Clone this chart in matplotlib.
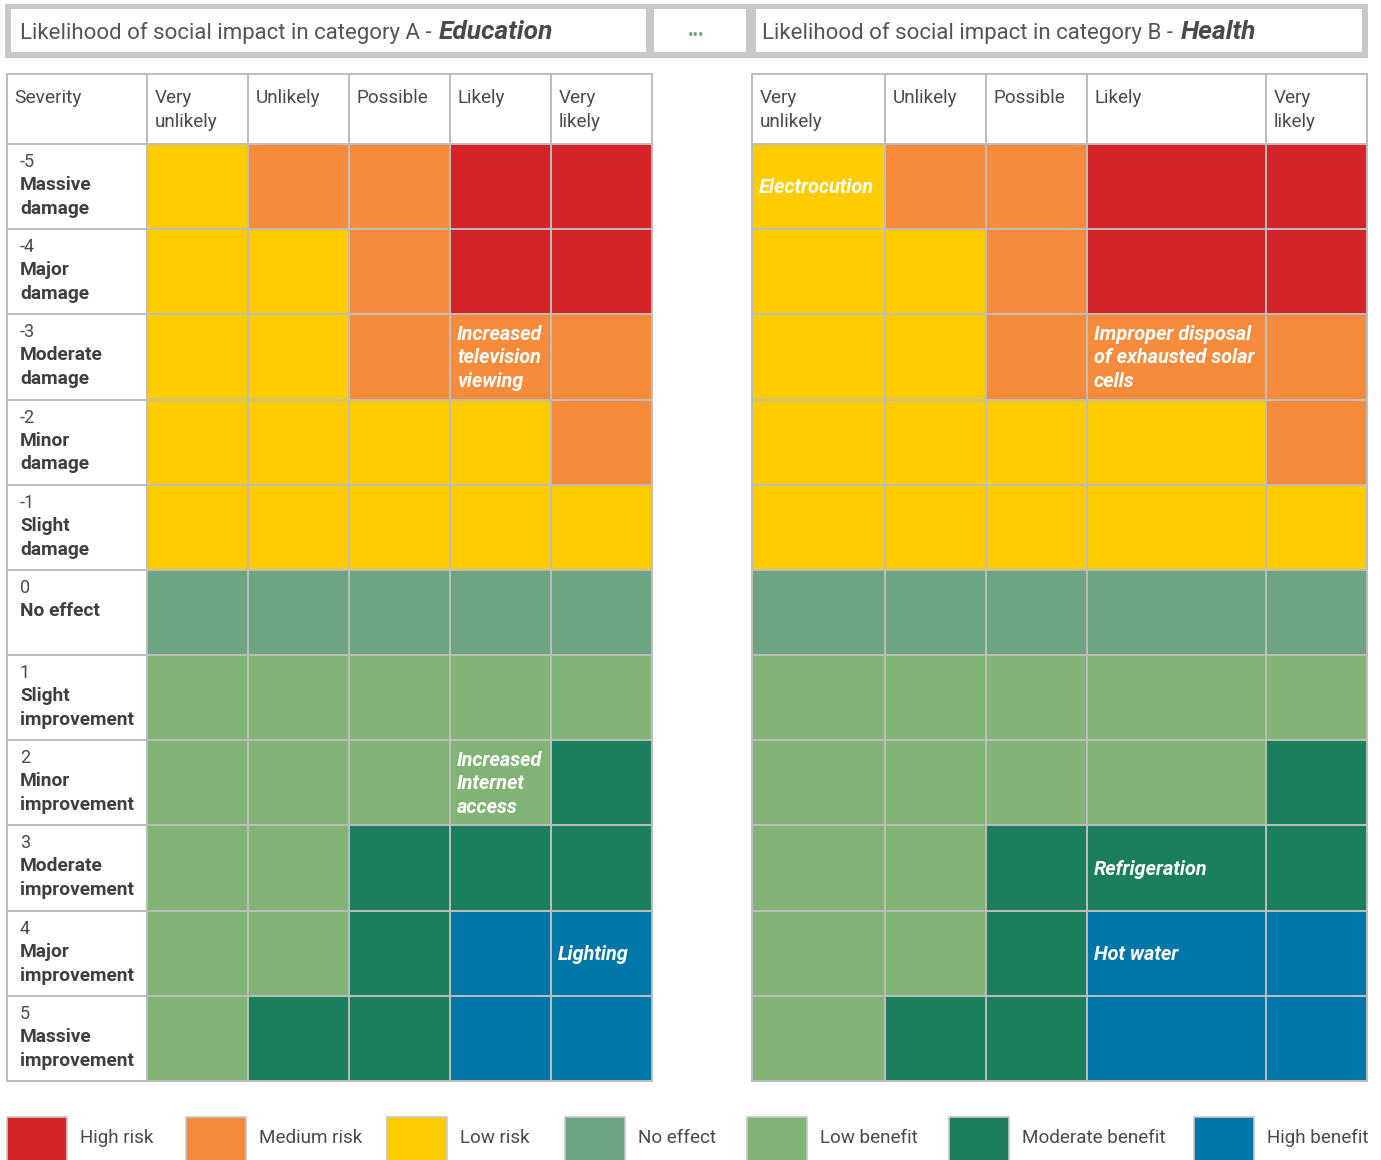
import matplotlib
matplotlib.use("Agg")
import matplotlib.pyplot as plt
from matplotlib.patches import Rectangle

plt.rcParams['font.family'] = ['Roboto', 'DejaVu Sans']

# ---------------- data ----------------
likelihood = ["Very\nunlikely", "Unlikely", "Possible", "Likely", "Very\nlikely"]
severity_values = ["-5", "-4", "-3", "-2", "-1", "0", "1", "2", "3", "4", "5"]
severity_names = ["Massive\ndamage", "Major\ndamage", "Moderate\ndamage", "Minor\ndamage",
                  "Slight\ndamage", "No effect", "Slight\nimprovement", "Minor\nimprovement",
                  "Moderate\nimprovement", "Major\nimprovement", "Massive\nimprovement"]
# codes: R high risk, O medium risk, Y low risk, N no effect, L low benefit, M moderate benefit, H high benefit
matrix_education = ["YOORR", "YYORR", "YYOOO", "YYYYO", "YYYYY", "NNNNN",
                    "LLLLL", "LLLLM", "LLMMM", "LLMHH", "LMMHH"]
matrix_health = ["YOORR", "YYORR", "YYOOO", "YYYYO", "YYYYY", "NNNNN",
                 "LLLLL", "LLLLM", "LLMMM", "LLMHH", "LMMHH"]
# annotations: (row index, column index, text)
notes_education = [(2, 3, "Increased\ntelevision\nviewing"),
                   (7, 3, "Increased\nInternet\naccess"),
                   (9, 4, "Lighting")]
notes_health = [(0, 0, "Electrocution"),
                (2, 3, "Improper disposal\nof exhausted solar\ncells"),
                (8, 3, "Refrigeration"),
                (9, 3, "Hot water")]
legend_codes = ["R", "O", "Y", "N", "L", "M", "H"]
legend_labels = ["High risk", "Medium risk", "Low risk", "No effect",
                 "Low benefit", "Moderate benefit", "High benefit"]
title_a = ("Likelihood of social impact in category A - ", "Education")
title_b = ("Likelihood of social impact in category B - ", "Health")

# ---------------- style ----------------
colors = {"R": "#D5232A", "O": "#F78B3C", "Y": "#FFCC00", "N": "#6DA582",
          "L": "#81B374", "M": "#1B7E5D", "H": "#0077A8"}
grid_c = "#BDBDBD"
txt_c = "#4A4A4A"
W, H = 1381, 1160

fig = plt.figure(figsize=(W / 100, H / 100), dpi=100)
ax = fig.add_axes([0, 0, 1, 1])
ax.set_xlim(0, W)
ax.set_ylim(H, 0)
ax.axis("off")

def rect(x0, y0, x1, y1, fc, ec=grid_c, lw=1.4, z=1):
    ax.add_patch(Rectangle((x0, y0), x1 - x0, y1 - y0, facecolor=fc,
                           edgecolor=ec, linewidth=lw, zorder=z))

# layout
header_top, header_bot = 74, 144
row_h = (1081 - 144) / 11
rows = [header_bot + i * row_h for i in range(12)]
left_label = (7, 147)
left_cols = [147 + i * 101 for i in range(6)]
right_cols = [752, 885, 986, 1087, 1266, 1367]

def draw_table(cols, matrix, notes, with_labels):
    if with_labels:
        x0, x1 = left_label
        rect(x0, header_top, x1, header_bot, "white")
        ax.text(x0 + 7, header_top + 15, "Severity", ha="left", va="top",
                fontsize=13.8, color=txt_c)
        for i in range(11):
            rect(x0, rows[i], x1, rows[i + 1], "white")
            ax.text(x0 + 13, rows[i] + 9, severity_values[i], ha="left", va="top",
                    fontsize=13, color=txt_c)
            ax.text(x0 + 13, rows[i] + 32, severity_names[i], ha="left", va="top",
                    fontsize=13.8, color="#3F3F3F", fontweight="bold", linespacing=1.42)
    for j in range(5):
        rect(cols[j], header_top, cols[j + 1], header_bot, "white")
        ax.text(cols[j] + 8, header_top + 15, likelihood[j], ha="left", va="top",
                fontsize=13.6, color=txt_c, linespacing=1.4)
    for i in range(11):
        for j in range(5):
            rect(cols[j], rows[i], cols[j + 1], rows[i + 1], colors[matrix[i][j]])
    for (i, j, t) in notes:
        ax.text(cols[j] + 7, (rows[i] + rows[i + 1]) / 2 + 1, t, ha="left", va="center",
                fontsize=14.3, color="white", fontweight="bold", fontstyle="italic",
                linespacing=1.32, zorder=5)

draw_table(left_cols, matrix_education, notes_education, True)
draw_table(right_cols, matrix_health, notes_health, False)

# title boxes
rect(5, 4, 1368, 58, "#C8C8C8", ec="none", lw=0, z=1)
for (a, b) in [(11, 646), (654, 746), (756, 1362)]:
    rect(a, 9, b, 52, "white", ec="none", lw=0, z=2)

fig.canvas.draw()
renderer = fig.canvas.get_renderer()

def title(x, pair):
    t1 = ax.text(x, 33, pair[0], ha="left", va="center", fontsize=16,
                 color="#555555", zorder=3)
    bb = t1.get_window_extent(renderer=renderer)
    x_end = ax.transData.inverted().transform((bb.x1, 0))[0]
    ax.text(x_end + 2, 32, pair[1], ha="left", va="center", fontsize=19,
            color="#4A4A4A", fontweight="bold", fontstyle="italic", zorder=3)

title(20, title_a)
title(762, title_b)
ax.text(696, 35, "•••", ha="center", va="center", fontsize=12, color="#6DA582", zorder=3)

# legend
leg_x = [7, 186, 387, 565, 747, 949, 1194]
for x, c, lab in zip(leg_x, legend_codes, legend_labels):
    rect(x, 1117, x + 60, 1180, colors[c], ec="#C8C8C8", lw=1.2)
    ax.text(x + 73, 1138, lab, ha="left", va="center", fontsize=13.6, color=txt_c)

fig.savefig("out.png", dpi=100)
